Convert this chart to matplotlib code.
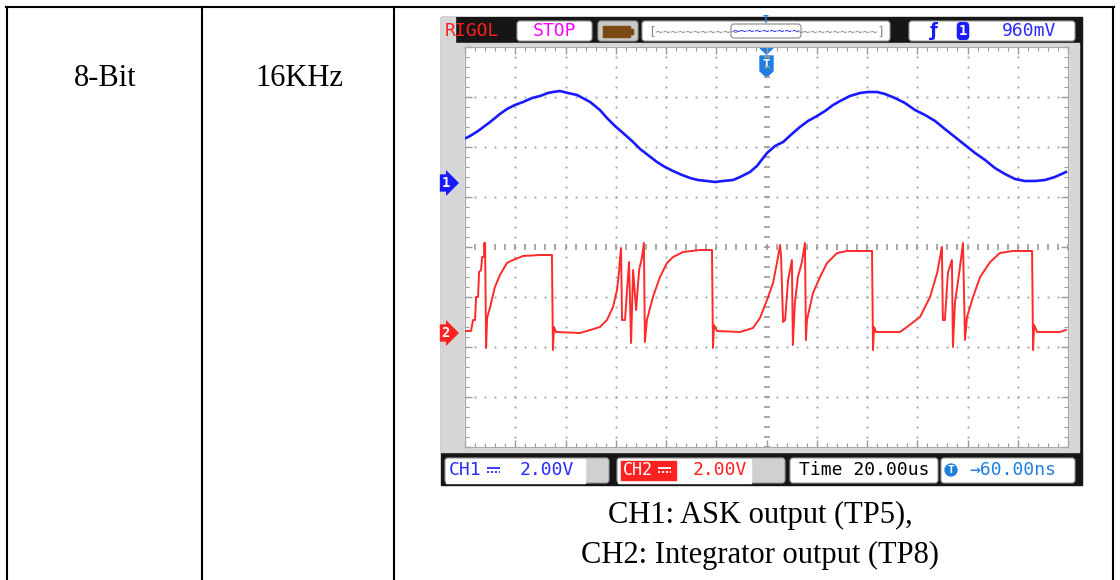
import numpy as np
import matplotlib.pyplot as plt
from matplotlib.patches import Rectangle, FancyBboxPatch, Polygon

# table cells
row_bits = "8-Bit"
row_rate = "16KHz"
caption = ["CH1: ASK output (TP5),", "CH2: Integrator output (TP8)"]

# scope settings
time_scale = 20.0   # us/div
ch1_scale = 2.0     # V/div
ch2_scale = 2.0
ch1_pos = 1.28      # ground marker, div from centre
ch2_pos = -1.72
trig_level = "960mV"
trig_offset = "60.00ns"

# CH1 trace: time (us), volts
ch1_t = [-119.6, -118.0, -114.8, -110.0, -106.1, -103.3, -100.1, -96.9, -93.3, -90.1,
         -87.0, -85.0, -82.2, -79.0, -75.4, -70.2, -66.3, -63.5, -60.3, -57.1,
         -53.5, -50.3, -47.2, -43.6, -40.4, -37.2, -33.6, -30.4, -27.3, -23.7,
         -20.5, -17.3, -13.3, -10.5, -6.6, -3.8, 0.2, 3.4, 6.6, 10.1,
         13.3, 16.5, 20.1, 23.3, 26.5, 29.3, 33.2, 37.2, 40.4, 44.0,
         47.2, 51.1, 55.1, 59.1, 63.1, 67.1, 71.0, 75.0, 79.0, 83.0,
         87.0, 90.9, 94.9, 98.9, 102.9, 106.9, 110.8, 114.8, 119.2]
ch1_v = [1.80, 1.88, 2.08, 2.44, 2.76, 2.96, 3.12, 3.24, 3.40, 3.48,
         3.60, 3.64, 3.68, 3.60, 3.52, 3.24, 2.92, 2.60, 2.28, 2.00,
         1.68, 1.36, 1.12, 0.84, 0.64, 0.48, 0.32, 0.20, 0.12, 0.08,
         0.04, 0.08, 0.12, 0.24, 0.44, 0.68, 1.20, 1.48, 1.64, 1.96,
         2.24, 2.48, 2.68, 2.88, 3.12, 3.28, 3.48, 3.60, 3.64, 3.64,
         3.56, 3.40, 3.20, 2.92, 2.72, 2.48, 2.16, 1.84, 1.52, 1.20,
         0.92, 0.60, 0.36, 0.16, 0.08, 0.08, 0.12, 0.24, 0.44]

# CH2 trace: time (us), volts
ch2_t = [-119.6, -117.6, -116.8, -116.0, -115.6, -114.8, -114.4, -113.6, -113.2, -112.4,
         -112.4, -112.0, -111.6, -111.2, -110.0, -108.1, -106.1, -103.3, -100.9, -96.9,
         -90.1, -85.4, -85.0, -84.6, -83.8, -74.2, -70.2, -66.3, -63.5, -61.1,
         -59.5, -58.7, -58.3, -57.9, -57.5, -56.3, -55.5, -54.7, -53.9, -53.1,
         -51.9, -50.7, -49.6, -48.8, -48.4, -47.6, -45.2, -42.4, -39.6, -37.2,
         -33.2, -26.5, -21.7, -21.3, -20.9, -19.7, -10.5, -5.4, -2.6, 0.2,
         2.6, 4.6, 5.4, 5.8, 6.6, 7.4, 8.6, 10.1, 10.5, 11.3,
         12.5, 14.1, 15.3, 15.7, 16.1, 18.5, 21.3, 24.1, 28.1, 32.0,
         42.0, 42.4, 42.8, 43.6, 53.1, 55.9, 61.1, 65.1, 67.9, 69.1,
         69.8, 70.2, 71.0, 72.2, 73.8, 74.2, 75.0, 77.0, 78.2, 79.0,
         79.8, 82.2, 85.0, 89.0, 92.9, 98.1, 105.7, 106.1, 106.5, 107.7,
         116.8, 119.2]
ch2_v = [0.08, 0.08, 0.52, 0.52, 1.44, 1.44, 2.44, 2.52, 3.04, 3.04,
         3.60, 3.60, -0.60, 0.60, 1.04, 1.84, 2.32, 2.80, 2.92, 3.08,
         3.12, 3.12, -0.68, 0.24, 0.04, 0.00, 0.12, 0.24, 0.52, 1.04,
         1.72, 2.44, 3.00, 3.40, 0.52, 0.52, 1.72, 2.84, -0.40, 2.52,
         0.92, 2.52, 3.00, 3.60, -0.36, 0.52, 1.44, 2.24, 2.80, 3.04,
         3.24, 3.32, 3.32, -0.60, 0.32, 0.08, 0.04, 0.20, 0.60, 1.32,
         2.00, 3.04, 3.52, 3.04, 0.44, 0.52, 2.12, 2.92, -0.48, 1.20,
         2.24, 2.84, 3.60, -0.28, 0.52, 1.60, 2.24, 2.80, 3.20, 3.28,
         3.28, -0.68, 0.24, 0.04, 0.04, 0.24, 0.64, 1.44, 2.40, 3.04,
         3.44, 0.52, 0.52, 2.40, 2.92, -0.56, 1.20, 2.64, 3.60, -0.28,
         0.64, 1.44, 2.24, 2.84, 3.20, 3.28, 3.28, -0.68, 0.32, 0.04,
         0.04, 0.12]

fig = plt.figure(figsize=(11.2, 5.8), dpi=100)

# page layer in pixel units
bg = fig.add_axes([0, 0, 1, 1])
bg.set_xlim(0, 1120)
bg.set_ylim(580, 0)
bg.axis('off')

# table borders
lw_tab = 1.5
bg.plot([6, 1114], [7, 7], color='black', lw=lw_tab)
for x in [7, 202, 394, 1113]:
    bg.plot([x, x], [7, 580], color='black', lw=lw_tab)

serif = 'Liberation Serif'
bg.text(105, 78, row_bits, ha='center', va='center', fontsize=22, family=serif)
bg.text(299, 78, row_rate, ha='center', va='center', fontsize=22, family=serif)
bg.text(760, 515, caption[0], ha='center', va='center', fontsize=22, family=serif)
bg.text(760, 555, caption[1], ha='center', va='center', fontsize=22, family=serif)

# scope frame
mono = 'DejaVu Sans Mono'
bg.add_patch(Rectangle((441, 17), 641, 468, color='#161616', zorder=1))
bg.add_patch(Rectangle((441, 43), 638, 409, color='#d6d6d6', zorder=1))
bg.add_patch(Rectangle((441, 17), 14, 27, color='#d6d6d6', zorder=1))
bg.add_patch(Rectangle((465, 47), 603, 400, color='white', zorder=1))


def box(x0, y0, w, h, fc, ec='#9a9a9a'):
    bg.add_patch(FancyBboxPatch((x0, y0), w, h, boxstyle='round,pad=0,rounding_size=3',
                                fc=fc, ec=ec, lw=0.8, zorder=2))


def dc_sign(x0, y0, color):
    # DC coupling sign: solid bar over a dashed bar
    bg.plot([x0, x0 + 13], [y0 - 2.5, y0 - 2.5], color=color, lw=1.3, zorder=5,
            solid_capstyle='butt')
    bg.plot([x0, x0 + 13], [y0 + 2, y0 + 2], color=color, lw=1.3, zorder=5,
            ls=(0, (1.2, 1.0)), dash_capstyle='butt')


# top status bar
bg.text(445, 31, 'RIGOL', color='#ff2020', fontsize=13, family=mono, va='center', zorder=3)
box(517, 21, 75, 20, 'white')
bg.text(554, 31, 'STOP', color='#ff00ff', fontsize=13, family=mono, ha='center', va='center', zorder=3)
box(598, 21, 40, 20, '#c8c8c8')
bg.add_patch(Rectangle((603, 26), 27, 11, color='#7a4a14', zorder=3))
bg.add_patch(Rectangle((630, 29), 3, 5, color='#7a4a14', zorder=3))
box(642, 21, 248, 20, 'white')
bg.text(648, 32, '[~~~~~~~~~~~', color='#888888', fontsize=9, family=mono, va='center', zorder=3)
box(731, 24, 70, 14, 'white', ec='#888888')
bg.text(766, 32, '~~~~~~~~~', color='#2020ff', fontsize=9, family=mono, ha='center', va='center', zorder=3)
bg.text(885, 32, '~~~~~~~~~~~]', color='#888888', fontsize=9, family=mono, ha='right', va='center', zorder=3)
bg.text(766, 20, 'T', color='#1e7fe0', fontsize=7, family=mono, ha='center', va='center',
        weight='bold', zorder=4)
box(909, 21, 166, 20, 'white')
bg.text(934, 31, 'ƒ', color='#1a1aff', fontsize=13, ha='center', va='center', weight='bold', zorder=3)
bg.text(963, 31, '1', color='white', fontsize=10, family=mono, ha='center', va='center', weight='bold',
        zorder=4, bbox=dict(boxstyle='round,pad=0.15,rounding_size=0.3', fc='#1a1aff', ec='none'))
bg.text(1029, 31, trig_level, color='#2a2aff', fontsize=13, family=mono, ha='center', va='center', zorder=3)

# bottom status bar
bg.add_patch(FancyBboxPatch((445, 458), 164, 25, boxstyle='round,pad=0,rounding_size=3',
                            fc='#d0d0d0', ec='#9a9a9a', lw=0.8, zorder=2))
bg.add_patch(Rectangle((445.5, 458.5), 139, 24, color='white', zorder=2))
bg.text(449, 470, 'CH1', color='#2a2aff', fontsize=13, family=mono, va='center', zorder=3)
dc_sign(487, 470, '#2a2aff')
bg.text(547, 470, f'{ch1_scale:.2f}V', color='#2a2aff', fontsize=13, family=mono,
        ha='center', va='center', zorder=3)
bg.add_patch(FancyBboxPatch((617, 458), 168, 25, boxstyle='round,pad=0,rounding_size=3',
                            fc='#d0d0d0', ec='#9a9a9a', lw=0.8, zorder=2))
bg.add_patch(Rectangle((617.5, 458.5), 133, 24, color='white', zorder=2))
bg.add_patch(Rectangle((621, 461), 55, 19, color='#ff2020', zorder=3))
bg.text(623, 470, 'CH2', color='white', fontsize=12, family=mono, va='center', zorder=4)
dc_sign(658, 470, 'white')
bg.text(720, 470, f'{ch2_scale:.2f}V', color='#ff2020', fontsize=13, family=mono,
        ha='center', va='center', zorder=3)
box(790, 458, 148, 25, 'white')
bg.text(864, 470, f'Time {time_scale:.2f}us', color='black', fontsize=13, family=mono,
        ha='center', va='center', zorder=3)
box(941, 458, 134, 25, 'white')
bg.text(951, 470, 'T', color='white', fontsize=8, family=mono, ha='center', va='center',
        weight='bold', zorder=4, bbox=dict(boxstyle='circle,pad=0.15', fc='#1e7fe0', ec='none'))
bg.text(1013, 470, '\u2192' + trig_offset, color='#1e7fe0', fontsize=13,
        family=[mono, 'DejaVu Sans'], ha='center', va='center', zorder=3)

# trigger position marker
bg.add_patch(Polygon([(760, 48), (773, 48), (766.5, 54)], color='#1e7fe0', zorder=5))
bg.add_patch(Polygon([(760, 56), (773, 56), (773, 71), (766.5, 77), (760, 71)],
                     color='#1e7fe0', zorder=5))
bg.text(766.5, 64, 'T', color='white', fontsize=9, family=mono, ha='center', va='center',
        weight='bold', zorder=6)

# scope graticule
ax = fig.add_axes([465 / 1120, 1 - 447 / 580, 603 / 1120, 400 / 580], zorder=3)
ax.patch.set_alpha(0)
ax.set_xlim(-6 * time_scale, 6 * time_scale)
ax.set_ylim(-4, 4)
ax.set_xticks(np.arange(-6, 7) * time_scale)
ax.set_xticks(np.arange(-30, 31) * time_scale / 5, minor=True)
ax.set_yticks(np.arange(-4, 5))
ax.set_yticks(np.arange(-20, 21) / 5, minor=True)
ax.tick_params(which='both', direction='in', top=True, right=True,
               labelbottom=False, labelleft=False, color='#9a9a9a')
ax.tick_params(which='major', length=5, width=1)
ax.tick_params(which='minor', length=3, width=0.8)
for s in ax.spines.values():
    s.set_color('#a8a8a8')
    s.set_linewidth(0.8)

ys = np.arange(-20, 21) / 5
xs = np.arange(-30, 31) * time_scale / 5
for k in range(-5, 6):
    if k == 0:
        continue
    ax.plot(np.full(ys.size, k * time_scale), ys, ls='none', marker='s', ms=1.3,
            mec='none', color='#9a9a9a', zorder=1)
for k in range(-3, 4):
    if k == 0:
        continue
    ax.plot(xs, np.full(xs.size, k), ls='none', marker='s', ms=1.3,
            mec='none', color='#9a9a9a', zorder=1)
ax.plot(np.zeros(ys.size), ys, ls='none', marker='_', ms=5, mew=1.2, color='#9a9a9a', zorder=1)
ax.plot(xs, np.zeros(xs.size), ls='none', marker='|', ms=5, mew=1.2, color='#9a9a9a', zorder=1)

ax.plot(ch1_t, np.array(ch1_v) / ch1_scale + ch1_pos, color='#1a1aff', lw=1.9, zorder=3)
ax.plot(ch2_t, np.array(ch2_v) / ch2_scale + ch2_pos, color='#ff2a2a', lw=1.4, zorder=3)

# channel ground markers
ax.text(-0.039, ch1_pos, '1', transform=ax.get_yaxis_transform(), color='white', fontsize=10,
        family=mono, weight='bold', ha='left', va='center', clip_on=False,
        bbox=dict(boxstyle='rarrow,pad=0.12', fc='#1a1aff', ec='none'))
ax.text(-0.039, ch2_pos, '2', transform=ax.get_yaxis_transform(), color='white', fontsize=10,
        family=mono, weight='bold', ha='left', va='center', clip_on=False,
        bbox=dict(boxstyle='rarrow,pad=0.12', fc='#ff2020', ec='none'))

fig.savefig('out.png', dpi=100)
